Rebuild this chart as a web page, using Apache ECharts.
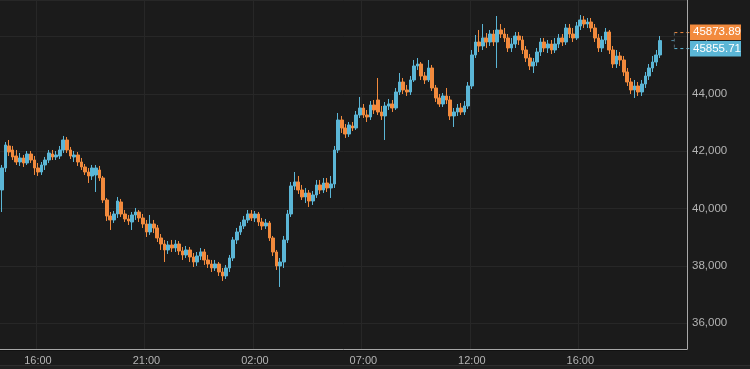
<!DOCTYPE html>
<html>
<head>
<meta charset="utf-8">
<script src="https://cdn.jsdelivr.net/npm/echarts@6/dist/echarts.min.js"></script>
<style>
html,body{margin:0;padding:0;background:#1b1b1b;}
#c{width:750px;height:369px;}
</style>
</head>
<body>
<div id="c"></div>
<script>
// x-axis: 190 time slots, labelled at these slot indices
const slotCount = 190;
const tickIndex = [10, 40, 70, 100, 130, 160];
const tickLabels = ['16:00', '21:00', '02:00', '07:00', '12:00', '16:00'];

const opens = [
40650,41418,42186,42046,41837,41627,41767,41592,41906,41697,
41418,41278,41523,41697,41906,41802,41837,42046,42395,42046,
41802,41872,41627,41453,41278,41139,41174,41348,41069,40301,
39743,39603,39812,40231,39812,39638,39533,39778,39882,39673,
39463,39184,39463,39324,38975,38765,38556,38731,38626,38765,
38521,38382,38556,38312,38137,38347,38486,38207,38067,37928,
38067,37788,37649,37928,38277,38905,39184,39394,39603,39812,
39673,39812,39533,39394,39498,38975,38486,37998,38137,38905,
39812,40790,40929,40650,40406,40545,40266,40476,40825,40650,
40894,40720,40859,42046,43093,42814,42604,42884,42814,43268,
43512,43268,43198,43617,43791,43372,43233,43582,43651,43512,
44070,44419,44140,44070,44489,44978,45047,44629,44489,44908,
44210,43861,43651,43931,43791,43233,43372,43512,43372,43582,
44280,45362,45815,45676,45955,45815,46094,45815,46234,46094,
45955,45606,45745,46025,45885,45536,45257,44978,45117,45466,
45815,45606,45745,45536,45745,45955,45815,46304,46094,45955,
46374,46583,46443,46513,46304,45955,45606,45885,46164,45536,
45047,45327,45187,44768,44419,44140,44280,44070,44349,44629,
44908,45117,45362];

const closes = [
41418,42221,41976,41802,41627,41767,41592,41906,41697,41418,
41278,41523,41697,41941,41802,41872,42046,42395,42046,41837,
41872,41627,41453,41278,41139,41418,41418,41069,40301,39743,
39603,39812,40266,39812,39638,39568,39778,39882,39673,39463,
39184,39463,39324,38975,38765,38556,38731,38626,38765,38521,
38382,38556,38312,38137,38347,38486,38207,38067,37928,38067,
37788,37649,37928,38277,38905,39184,39394,39603,39812,39673,
39812,39533,39394,39498,38975,38486,37998,38137,38905,39812,
40790,40929,40650,40406,40545,40266,40476,40825,40650,40894,
40720,40859,42046,43093,42814,42604,42919,42814,43268,43512,
43268,43198,43617,43442,43372,43233,43582,43651,43512,44070,
44419,44140,44070,44489,44978,45047,44629,44489,44908,44210,
43861,43651,43931,43791,43233,43372,43512,43372,43582,44280,
45362,45815,45676,45955,45815,46094,45815,46234,46094,45955,
45606,45745,46025,45885,45536,45257,44978,45117,45466,45815,
45606,45745,45536,45745,45955,45815,46304,46094,45955,46374,
46583,46443,46513,46304,45955,45606,45885,46164,45536,45047,
45327,45187,44768,44419,44140,44280,44070,44349,44629,44908,
45117,45362,45864];

const lows = [
39882,41278,41837,41697,41523,41488,41453,41523,41592,41174,
41139,41174,41348,41592,41697,41697,41732,41941,41941,41732,
41627,41488,41348,41174,40894,40999,40580,40964,40196,39568,
39254,39498,39673,39708,39533,39429,39254,39603,39533,39324,
39010,39080,39149,38835,38556,38137,38416,38486,38486,38382,
38207,38277,38137,37963,37998,38207,38033,37928,37788,37823,
37649,37474,37544,37788,38172,38765,39080,39289,39498,39568,
39533,39394,39254,39289,38870,38347,37858,37265,37928,38800,
39708,40650,40510,40301,40196,40057,40127,40371,40510,40545,
40580,40371,40720,41941,42639,42465,42500,42709,42744,43163,
43163,43023,43093,43302,43268,43093,42395,43442,43372,43442,
43966,44000,43931,43966,44419,44838,44489,44349,44419,44105,
43721,43547,43547,43651,43093,42849,43233,43268,43268,43477,
44175,45257,45466,45536,45606,45676,45676,44908,45955,45815,
45466,45466,45606,45711,45396,45117,44838,44733,44978,45327,
45466,45431,45396,45431,45606,45676,45711,45955,45815,45885,
46234,46304,46304,46164,45815,45466,45466,45745,45396,44908,
44908,44978,44629,44280,44000,43861,43931,43931,44210,44489,
44768,44978,45257];

const highs = [
41523,42325,42395,42186,42046,41941,41872,42011,42011,41837,
41592,41627,41802,42046,42046,42011,42186,42535,42500,42151,
42011,41976,41767,41557,41418,41523,41523,41488,41139,40371,
39882,39917,40406,40336,39952,39778,39882,40022,39952,39812,
39603,39778,39603,39429,39114,38905,38870,38905,38905,38870,
38661,38696,38661,38451,38486,38626,38591,38382,38207,38207,
38137,37928,38033,38382,39010,39324,39533,39743,39952,39952,
39917,39882,39673,39638,39568,39045,38556,38277,39045,39952,
40929,41278,41139,40825,40720,40650,40615,40999,40999,41069,
41069,41139,42186,43337,43233,42953,43023,43023,43407,43896,
43651,43442,43756,43791,44559,43582,43721,43826,43791,44210,
44733,44559,44315,44629,45187,45257,45117,44768,45187,45013,
44315,44000,44035,44210,43931,43512,43651,43686,43756,44419,
45536,46060,46234,46443,46129,46234,46234,46723,46443,46304,
46094,45955,46164,46164,46025,45676,45396,45257,45606,45955,
45955,45885,45885,45955,46094,46094,46443,46443,46304,46513,
46758,46723,46653,46653,46443,46094,46025,46304,46234,45676,
45536,45466,45327,44908,44559,44489,44419,44489,44768,45047,
45327,45536,46025];

// last quoted prices shown at the right edge
const lastPrices = [45873.89, 45855.71];

const ORANGE = '#F28A3D';
const BLUE = '#5BB6D6';
const BG = '#1b1b1b';

const categories = Array.from({length: slotCount}, (_, i) => String(i));
const ohlc = opens.map((o, i) => [o, closes[i], lows[i], highs[i]]);
const isTick = (i) => tickIndex.indexOf(i) >= 0;

const chart = echarts.init(document.getElementById('c'), null, {renderer: 'canvas'});
chart.setOption({
  backgroundColor: BG,
  animation: false,
  grid: {left: 0, right: 63, top: 0, bottom: 20},
  xAxis: {
    type: 'category',
    data: categories,
    boundaryGap: true,
    axisLine: {show: true, lineStyle: {color: '#a8a8a8', width: 1}},
    axisTick: {show: false},
    axisLabel: {
      interval: (i) => isTick(i),
      formatter: (v) => tickLabels[tickIndex.indexOf(Number(v))],
      color: '#b4b4b4', fontSize: 11, fontFamily: 'Liberation Sans, Arial, sans-serif', margin: 6
    },
    splitLine: {show: true, interval: (i) => isTick(i), lineStyle: {color: '#272727', width: 1}}
  },
  yAxis: {
    type: 'value',
    position: 'right',
    min: 35100,
    max: 47281,
    splitNumber: 5,
    axisLine: {show: true, lineStyle: {color: '#a8a8a8', width: 1}},
    axisTick: {show: false},
    axisLabel: {
      showMinLabel: false, showMaxLabel: false,
      color: '#b4b4b4', fontSize: 11.5, fontFamily: 'Liberation Sans, Arial, sans-serif', margin: 5
    },
    splitLine: {show: true, lineStyle: {color: '#272727', width: 1}}
  },
  series: [{
    type: 'candlestick',
    data: ohlc,
    barWidth: '88%',
    itemStyle: {color: BLUE, color0: ORANGE, borderColor: BLUE, borderColor0: ORANGE, borderWidth: 1}
  }]
});

// right-edge price tags, placed through the library's own scales
const mid = (lastPrices[0] + lastPrices[1]) / 2;
const yMid = chart.convertToPixel({yAxisIndex: 0}, mid);
const xStart = chart.convertToPixel({xAxisIndex: 0}, opens.length + 3);
const gridRight = 750 - 63;
const tagX = gridRight + 3;
const tagW = 51, tagH = 15.5;
const yTop = yMid - 8, yBot = yMid + 8;
chart.setOption({
  graphic: [
    {type: 'line', shape: {x1: xStart - 3, y1: yMid, x2: xStart, y2: yMid}, style: {stroke: '#4f8aa3', lineWidth: 1}},
    {type: 'line', shape: {x1: xStart, y1: yTop, x2: tagX, y2: yTop}, style: {stroke: ORANGE, lineWidth: 1, lineDash: [3, 3]}},
    {type: 'line', shape: {x1: xStart, y1: yBot, x2: tagX, y2: yBot}, style: {stroke: BLUE, lineWidth: 1, lineDash: [3, 3]}},
    {type: 'line', shape: {x1: xStart, y1: yTop, x2: xStart, y2: yBot}, style: {stroke: '#55656f', lineWidth: 1, lineDash: [3, 3]}},
    {type: 'rect', shape: {x: tagX, y: yMid - tagH - 0.5, width: tagW, height: tagH}, style: {fill: ORANGE}, z: 10},
    {type: 'text', x: tagX + 3, y: yMid - tagH / 2 - 0.5, style: {text: lastPrices[0].toFixed(2), fill: '#ffffff', font: '11.5px "Liberation Sans", Arial, sans-serif', verticalAlign: 'middle', align: 'left'}, z: 11},
    {type: 'rect', shape: {x: tagX, y: yMid + 0.5, width: tagW, height: tagH}, style: {fill: BLUE}, z: 10},
    {type: 'text', x: tagX + 3, y: yMid + tagH / 2 + 0.5, style: {text: lastPrices[1].toFixed(2), fill: '#ffffff', font: '11.5px "Liberation Sans", Arial, sans-serif', verticalAlign: 'middle', align: 'left'}, z: 11},
    {type: 'line', shape: {x1: 0, y1: 350.5, x2: gridRight, y2: 350.5}, style: {stroke: '#111111', lineWidth: 1}},
    {type: 'rect', shape: {x: 0, y: 365, width: 750, height: 4}, style: {fill: '#202020'}},
    {type: 'line', shape: {x1: 0, y1: 365.5, x2: 750, y2: 365.5}, style: {stroke: '#2e2e2e', lineWidth: 1}}
  ]
});
</script>
</body>
</html>
